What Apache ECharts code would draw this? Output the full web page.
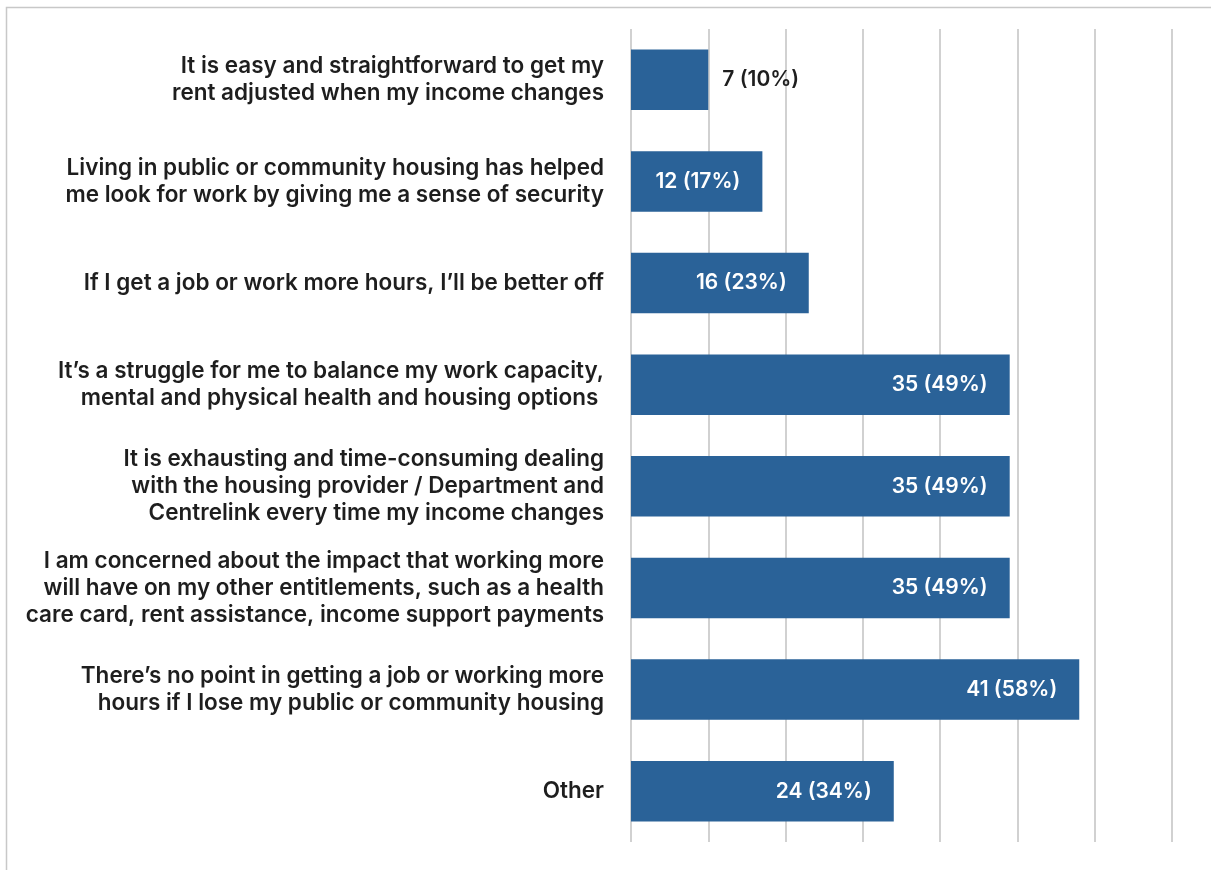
<!DOCTYPE html>
<html>
<head>
<meta charset="utf-8">
<script src="https://cdn.jsdelivr.net/npm/echarts@6/dist/echarts.min.js"></script>
<style>
  html, body { margin: 0; padding: 0; background: #ffffff; }
  #chart { width: 1211px; height: 870px; }
</style>
</head>
<body>
<div id="chart"></div>
<script>
// Survey statements, top to bottom
const categories = [
  'It is easy and straightforward to get my\nrent adjusted when my income changes',
  'Living in public or community housing has helped\nme look for work by giving me a sense of security',
  'If I get a job or work more hours, I\u2019ll be better off',
  'It\u2019s a struggle for me to balance my work capacity,\nmental and physical health and housing options ',
  'It is exhausting and time-consuming dealing\nwith the housing provider / Department and\nCentrelink every time my income changes',
  'I am concerned about the impact that working more\nwill have on my other entitlements, such as a health\ncare card, rent assistance, income support payments',
  'There\u2019s no point in getting a job or working more\nhours if I lose my public or community housing',
  'Other'
];

// Number of respondents agreeing with each statement
const counts = [7, 12, 16, 35, 35, 35, 41, 24];

// Share of respondents (%)
const percents = [10, 17, 23, 49, 49, 49, 58, 34];

// Value axis ticks (%)
const axisMin = 0;
const axisMax = 70;
const axisStep = 10;

const FONT = 'Inter, "Open Sans", sans-serif';
const BAR_COLOR = '#2a6298';

const chart = echarts.init(document.getElementById('chart'), null, { renderer: 'canvas' });

const barData = percents.map((p, i) => {
  const item = { value: p };
  if (i === 0) {
    // short bar: label sits outside to the right
    item.label = { position: 'right', distance: 14, color: '#1e1e1e' };
  }
  return item;
});

chart.setOption({
  backgroundColor: '#ffffff',
  animation: false,
  graphic: [{
    type: 'rect',
    silent: true,
    shape: { x: 6.5, y: 7.5, width: 1400, height: 1000 },
    style: { fill: 'none', stroke: '#c8c8c8', lineWidth: 1.5 }
  }],
  grid: { left: 631, right: 39, top: 29, height: 813, containLabel: false },
  xAxis: {
    type: 'value',
    min: axisMin,
    max: axisMax,
    interval: axisStep,
    axisLine: { show: false },
    axisTick: { show: false },
    axisLabel: { show: false },
    splitLine: { show: true, lineStyle: { color: '#c2c2c2', width: 1.5 } }
  },
  yAxis: {
    type: 'category',
    inverse: true,
    data: categories,
    axisLine: { show: false },
    axisTick: { show: false },
    splitLine: { show: false },
    axisLabel: {
      margin: 27,
      align: 'right',
      fontFamily: FONT,
      fontSize: 22.5,
      fontWeight: 600,
      lineHeight: 27,
      padding: [9, 0, 0, 0],
      color: '#1e1e1e'
    }
  },
  series: [{
    type: 'bar',
    data: barData,
    barCategoryGap: '40.5%',
    itemStyle: { color: BAR_COLOR },
    label: {
      show: true,
      position: 'insideRight',
      distance: 22,
      fontFamily: FONT,
      fontSize: 21,
      fontWeight: 600,
      color: '#ffffff',
      formatter: p => counts[p.dataIndex] + ' (' + percents[p.dataIndex] + '%)'
    }
  }]
});
</script>
</body>
</html>
